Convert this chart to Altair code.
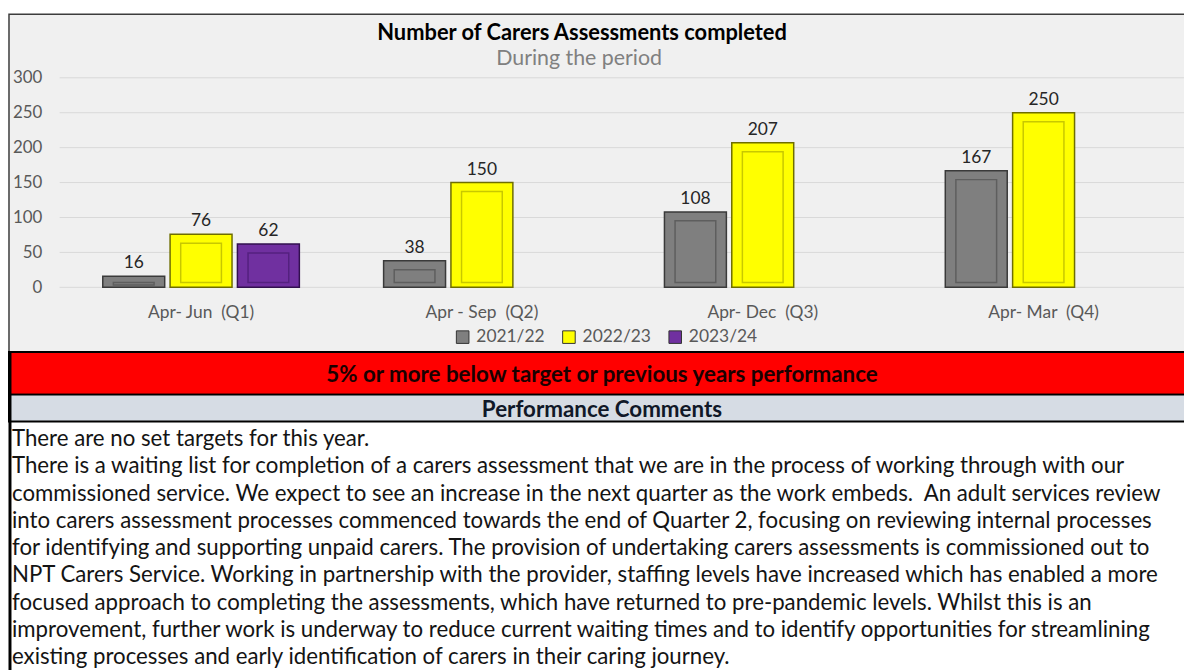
import altair as alt
import pandas as pd

# ---------------- data ----------------
categories = ["Apr- Jun  (Q1)", "Apr - Sep  (Q2)", "Apr- Dec  (Q3)", "Apr- Mar  (Q4)"]
series = ["2021/22", "2022/23", "2023/24"]
values_2021_22 = [16, 38, 108, 167]
values_2022_23 = [76, 150, 207, 250]
values_2023_24 = [62, None, None, None]
y_ticks = [0, 50, 100, 150, 200, 250, 300]

title_text = "Number of Carers Assessments completed"
subtitle_text = "During the period"
status_text = "5% or more below target or previous years performance"
comments_header = "Performance Comments"
comment_lines = [
    "There are no set targets for this year.",
    "There is a waiting list for completion of a carers assessment that we are in the process of working through with our",
    "commissioned service. We expect to see an increase in the next quarter as the work embeds.  An adult services review",
    "into carers assessment processes commenced towards the end of Quarter 2, focusing on reviewing internal processes",
    "for identifying and supporting unpaid carers. The provision of undertaking carers assessments is commissioned out to",
    "NPT Carers Service. Working in partnership with the provider, staffing levels have increased which has enabled a more",
    "focused approach to completing the assessments, which have returned to pre-pandemic levels. Whilst this is an",
    "improvement, further work is underway to reduce current waiting times and to identify opportunities for streamlining",
    "existing processes and early identification of carers in their caring journey.",
]

NB = "\u00a0"
cat_labels = [c.replace(" ", NB) for c in categories]
comment_lines_nb = [l.replace("  ", NB + " ") for l in comment_lines]

rows = []
for s, vals in zip(series, [values_2021_22, values_2022_23, values_2023_24]):
    for c, v in zip(cat_labels, vals):
        if v is not None:
            rows.append({"quarter": c, "year": s, "value": v})
df = pd.DataFrame(rows)
one = pd.DataFrame({"k": [0]})
grid_df = pd.DataFrame({"value": y_ticks})

# ---------------- style ----------------
FONT = "Lato"
W, H = 1131, 211
fill_colors = ["#7f7f7f", "#ffff00", "#7030a0"]
edge_colors = ["#3a3a3a", "#6e6e00", "#32104f"]
inner_colors = ["#5e5e5e", "#c8c800", "#54217f"]

x_axis = alt.Axis(title=None, labelFont=FONT, labelFontSize=17.5, labelColor="#595959",
                  domain=False, ticks=False, tickSize=0, labelPadding=25,
                  labelBaseline="middle", labelAngle=0, grid=False, zindex=1)
y_axis = alt.Axis(title=None, values=y_ticks, grid=False, domain=False, ticks=False,
                  tickSize=0, labelPadding=19, labelFont=FONT, labelFontSize=17,
                  labelColor="#595959", zindex=1)

x_enc = alt.X("quarter:N", sort=cat_labels,
              scale=alt.Scale(domain=cat_labels, paddingInner=0.3, paddingOuter=0.15),
              axis=x_axis)
xo_enc = alt.XOffset("year:N", sort=series, scale=alt.Scale(domain=series, paddingInner=0.08))
y_enc = alt.Y("value:Q", scale=alt.Scale(domain=[0, 300], nice=False), axis=y_axis)
fill_enc = alt.Fill("year:N", sort=series,
                    scale=alt.Scale(domain=series, range=fill_colors),
                    legend=alt.Legend(title=None, orient="none", legendX=396, legendY=252,
                                      direction="horizontal", symbolType="square",
                                      symbolSize=160, symbolStrokeColor="#333333",
                                      symbolStrokeWidth=1, labelFont=FONT, labelFontSize=17.5,
                                      labelColor="#595959", columnPadding=15, labelOffset=5,
                                      padding=0, zindex=1))

# ---------------- panels ----------------
frame = alt.Chart(one).mark_rect(fill="#f0f0f0", stroke="#3c3c3c", strokeWidth=1.5).encode(
    x=alt.value(-52), x2=alt.value(W + 10), y=alt.value(-64), y2=alt.value(276))
red_band = alt.Chart(one).mark_rect(fill="#ff0000", stroke="#000000", strokeWidth=2).encode(
    x=alt.value(-52), x2=alt.value(W + 10), y=alt.value(276), y2=alt.value(319))
grey_band = alt.Chart(one).mark_rect(fill="#d6dce4", stroke="#000000", strokeWidth=2).encode(
    x=alt.value(-52), x2=alt.value(W + 10), y=alt.value(319), y2=alt.value(346))
left_rule = alt.Chart(one).mark_rule(color="#000000", strokeWidth=3).encode(
    x=alt.value(-51), y=alt.value(276), y2=alt.value(700))

grid = alt.Chart(grid_df).mark_rule(color="#d9d9d9", strokeWidth=1).encode(
    y=y_enc, x=alt.value(-1), x2=alt.value(W))

bars_outer = alt.Chart(df).mark_bar(strokeWidth=1.5).encode(
    x=x_enc, xOffset=xo_enc, y=y_enc, fill=fill_enc,
    stroke=alt.Stroke("year:N", scale=alt.Scale(domain=series, range=edge_colors), legend=None))
bars_inner = alt.Chart(df).mark_bar(strokeWidth=1.5, size=41,
                                    yOffset=9, y2Offset=-5).encode(
    x=x_enc, xOffset=xo_enc, y=y_enc, y2=alt.Y2Datum(0), fill=fill_enc,
    stroke=alt.Stroke("year:N", scale=alt.Scale(domain=series, range=inner_colors), legend=None))
labels = alt.Chart(df).mark_text(font=FONT, fontSize=17.5, color="#262626", baseline="bottom", dy=-4).encode(
    x=x_enc, xOffset=xo_enc, y=y_enc, text=alt.Text("value:Q"))

title = alt.Chart(one).mark_text(text=title_text, font=FONT, fontSize=22, fontWeight="bold",
                                 color="#000000", align="center", baseline="middle").encode(
    x=alt.value(525), y=alt.value(-45))
subtitle = alt.Chart(one).mark_text(text=subtitle_text, font=FONT, fontSize=21.5,
                                    color="#808080", align="center", baseline="middle").encode(
    x=alt.value(522), y=alt.value(-19))
status = alt.Chart(one).mark_text(text=status_text, font=FONT, fontSize=22.5, fontWeight="bold",
                                  color="#1a0000", align="center", baseline="middle").encode(
    x=alt.value(545), y=alt.value(299))
header = alt.Chart(one).mark_text(text=comments_header, font=FONT, fontSize=22.5, fontWeight="bold",
                                  color="#101828", align="center", baseline="middle").encode(
    x=alt.value(545), y=alt.value(335))
body = alt.Chart(one).mark_text(text=comment_lines_nb, font=FONT, fontSize=22.4, lineHeight=27.4,
                                color="#141414", align="left", baseline="top").encode(
    x=alt.value(-49), y=alt.value(353))

chart = alt.layer(
    frame, red_band, grey_band, left_rule, grid, bars_outer, bars_inner, labels,
    title, subtitle, status, header, body
).resolve_scale(stroke="independent").properties(
    width=W, height=H,
    padding={"left": 53, "top": 68, "right": 0, "bottom": 383},
    autosize=alt.AutoSizeParams(type="none"),
    background="#ffffff",
).configure_view(stroke=None)

chart.save("out.html", embed_options={"renderer": "svg", "actions": False})
